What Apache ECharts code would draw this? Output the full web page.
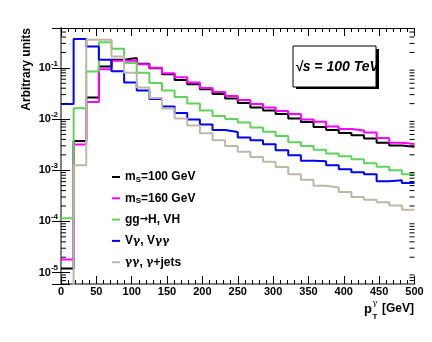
<!DOCTYPE html>
<html>
<head>
<meta charset="utf-8">
<script src="https://cdn.jsdelivr.net/npm/echarts@6/dist/echarts.min.js"></script>
<style>
html, body { margin: 0; padding: 0; background: #fff; }
#chart { width: 432px; height: 342px; }
</style>
</head>
<body>
<div id="chart"></div>
<script>
// photon pT spectra, 28 bins between 0 and 500 GeV, normalised
var ptMin = 0, ptMax = 500, nBins = 28;
var ms100 = [1.21e-5, 3.71e-3, 0.0262, 0.106, 0.144, 0.155, 0.120, 0.0977, 0.0746, 0.0582, 0.0479, 0.0382, 0.0309, 0.0252,
    0.0206, 0.0168, 0.0147, 0.0125, 0.0102, 0.00873, 0.00697, 0.00608, 0.00531, 0.00485, 0.00415, 0.00343, 0.00305, 0.00286];
var ms160 = [1.80e-5, 3.19e-3, 0.0215, 0.0943, 0.137, 0.139, 0.117, 0.100, 0.078, 0.0658, 0.0515, 0.0406, 0.0338, 0.0282,
    0.0236, 0.0197, 0.0168, 0.0144, 0.0125, 0.00978, 0.00885, 0.00713, 0.00637, 0.00595, 0.00543, 0.00424, 0.00346, 0.00324];
var ggH = [1.16e-4, 0.0162, 0.0846, 0.316, 0.236, 0.124, 0.0798, 0.0508, 0.0362, 0.027, 0.0201, 0.0147, 0.0115, 0.0100,
    0.00853, 0.00681, 0.00563, 0.00465, 0.00354, 0.00296, 0.00252, 0.00212, 0.00188, 0.00164, 0.00137, 0.00117, 0.0010, 0.000835];
var vGam = [0.0197, 0.366, 0.262, 0.144, 0.0854, 0.052, 0.0359, 0.0247, 0.0176, 0.0131, 0.00978, 0.0078, 0.00608, 0.00556,
    0.00434, 0.00387, 0.00323, 0.00247, 0.00197, 0.00153, 0.0015, 0.00125, 0.00105, 0.000914, 0.000835, 0.000608, 0.000637, 0.000564];
// first bin is empty (below the axis range)
var gamJets = [1e-7, 0.00125, 0.354, 0.354, 0.167, 0.0798, 0.0415, 0.0258, 0.0161, 0.0103, 0.00746, 0.00525, 0.00387, 0.00296,
    0.00229, 0.00182, 0.00146, 0.00116, 0.000835, 0.000652, 0.000497, 0.000458, 0.000376, 0.000299, 0.000266, 0.000236, 0.000204, 0.00017];

var seriesNames = ['ms100', 'ms160', 'ggH', 'vgam', 'gamjets'];
var legendLabels = {
    ms100: 'm{s|S}=100 GeV',
    ms160: 'm{s|S}=160 GeV',
    ggH: 'gg{a|\u2192}H, VH',
    vgam: 'V{g|\u03b3}, V{g|\u03b3\u03b3}',
    gamjets: '{g|\u03b3\u03b3}, {g|\u03b3}+jets'
};
var colors = ['#000000', '#ff00ff', '#5fd35a', '#0000ff', '#bdb8a8'];
var yMin = 6e-6, yMax = 0.6;
var yDecades = [-5, -4, -3, -2, -1];

var FONT = 'Liberation Sans';

function histo(vals) { // step points at bin low edges + closing point
    var w = (ptMax - ptMin) / nBins, d = [];
    for (var i = 0; i < vals.length; i++) d.push([ptMin + i * w, vals[i]]);
    d.push([ptMax, vals[vals.length - 1]]);
    return d;
}

// minor ticks for the log axis: 2..9 x 10^n
var minorVals = [];
for (var e = -6; e <= -1; e++) {
    for (var m = 2; m <= 9; m++) {
        var v = m * Math.pow(10, e);
        if (v > yMin && v < yMax) minorVals.push([ptMin, v]);
    }
}

var chart = echarts.init(document.getElementById('chart'));
var allData = [ms100, ms160, ggH, vGam, gamJets];
var series = [];
for (var i = 0; i < seriesNames.length; i++) {
    series.push({
        name: seriesNames[i],
        type: 'line',
        step: 'end',
        data: histo(allData[i]),
        color: colors[i],
        showSymbol: false,
        lineStyle: { width: 2, color: colors[i] },
        clip: true,
        z: 3 + i
    });
}
series.push({
    type: 'custom',
    silent: true,
    data: minorVals,
    z: 10,
    renderItem: function(params, api) {
        var l = api.coord([ptMin, api.value(1)]);
        var r = api.coord([ptMax, api.value(1)]);
        return {
            type: 'group',
            children: [
                { type: 'line', shape: { x1: l[0], y1: l[1], x2: l[0] + 5, y2: l[1] }, style: { stroke: '#000', lineWidth: 1 } },
                { type: 'line', shape: { x1: r[0], y1: r[1], x2: r[0] - 5, y2: r[1] }, style: { stroke: '#000', lineWidth: 1 } }
            ]
        };
    }
});

function yLabel(val) {
    var lg = Math.log10(val), ex = Math.round(lg);
    if (Math.abs(lg - ex) > 1e-6 || yDecades.indexOf(ex) < 0) return '';
    return '{b|10}{e|' + ex + '}';
}

var xAxisBase = {
    type: 'value', min: ptMin, max: ptMax, interval: 50,
    splitLine: { show: false },
    axisTick: { inside: true, length: 8, lineStyle: { color: '#000' } },
    minorTick: { show: true, splitNumber: 5, length: 4, lineStyle: { color: '#000' } }
};

var option = {
    animation: false,
    backgroundColor: '#fff',
    grid: { left: 61, right: 17.5, top: 28, bottom: 58 },
    xAxis: [
        Object.assign({}, xAxisBase, {
            position: 'bottom',
            axisLine: { lineStyle: { color: '#808080', width: 2 } },
            axisLabel: { margin: 2, color: '#000', fontFamily: FONT, fontWeight: 'bold', fontSize: 11 }
        }),
        Object.assign({}, xAxisBase, {
            position: 'top',
            axisLine: { lineStyle: { color: '#000', width: 1 } },
            axisLabel: { show: false }
        })
    ],
    yAxis: [{
        type: 'log', logBase: 10, min: yMin, max: yMax, position: 'left',
        splitLine: { show: false },
        axisLine: { lineStyle: { color: '#000', width: 1 } },
        axisTick: { inside: true, length: 9, lineStyle: { color: '#000' } },
        axisLabel: {
            margin: 3, color: '#000', formatter: yLabel,
            rich: {
                b: { fontFamily: FONT, fontWeight: 'bold', fontSize: 11, color: '#000' },
                e: { fontFamily: FONT, fontWeight: 'bold', fontSize: 8, color: '#000', padding: [0, 0, 9, 0] }
            }
        }
    }, {
        type: 'log', logBase: 10, min: yMin, max: yMax, position: 'right',
        splitLine: { show: false },
        axisLine: { lineStyle: { color: '#808080', width: 2 } },
        axisTick: { inside: true, length: 9, lineStyle: { color: '#000' } },
        axisLabel: { show: false }
    }],
    legend: {
        data: seriesNames,
        orient: 'vertical',
        left: 107, top: 165,
        icon: 'rect', itemWidth: 8, itemHeight: 2, itemGap: 7.3,
        formatter: function(name) { return legendLabels[name]; },
        textStyle: {
            fontFamily: FONT, fontWeight: 'bold', fontSize: 12, color: '#000', lineHeight: 14,
            rich: {
                s: { fontFamily: FONT, fontWeight: 'bold', fontSize: 8, color: '#000', padding: [5, 0, 0, 0] },
                a: { fontFamily: 'DejaVu Sans', fontSize: 10, color: '#000' },
                g: { fontFamily: 'DejaVu Serif', fontSize: 11, color: '#000' }
            }
        }
    },
    graphic: [
        // energy box with shadow
        { type: 'rect', shape: { x: 296, y: 49, width: 83, height: 40 }, style: { fill: '#000' }, z: 20 },
        { type: 'rect', shape: { x: 293, y: 46, width: 83, height: 41 }, style: { fill: '#fff', stroke: '#000', lineWidth: 1 }, z: 21 },
        { type: 'text', x: 295, y: 67, z: 22,
          style: { text: '\u221as = 100 TeV', font: 'italic bold 14px "Liberation Sans"', fill: '#000',
                   textAlign: 'left', textVerticalAlign: 'middle', align: 'left', verticalAlign: 'middle' } },
        { type: 'rect', shape: { x: 379.5, y: 44, width: 20, height: 48 }, style: { fill: '#fff' }, z: 23 },
        // axis titles
        { type: 'text', x: 27, y: 28, rotation: Math.PI / 2, z: 20,
          style: { text: 'Arbitrary units', font: 'bold 12px "Liberation Sans"', fill: '#000',
                   textAlign: 'right', textVerticalAlign: 'middle', align: 'right', verticalAlign: 'middle' } },
        { type: 'text', x: 414, y: 309, z: 20,
          style: { text: '[GeV]', font: 'bold 12px "Liberation Sans"', fill: '#000',
                   textAlign: 'right', textVerticalAlign: 'middle', align: 'right', verticalAlign: 'middle' } },
        { type: 'text', x: 372, y: 309, z: 20,
          style: { text: 'p', font: 'bold 13px "Liberation Sans"', fill: '#000',
                   textAlign: 'right', textVerticalAlign: 'middle', align: 'right', verticalAlign: 'middle' } },
        { type: 'text', x: 372.5, y: 303, z: 20,
          style: { text: '\u03b3', font: '8px "DejaVu Serif"', fill: '#000',
                   textAlign: 'left', textVerticalAlign: 'middle', align: 'left', verticalAlign: 'middle' } },
        { type: 'text', x: 372.5, y: 317, z: 20,
          style: { text: 'T', font: 'bold 8px "Liberation Sans"', fill: '#000',
                   textAlign: 'left', textVerticalAlign: 'middle', align: 'left', verticalAlign: 'middle' } }
    ],
    series: series
};
chart.setOption(option);
</script>
</body>
</html>
